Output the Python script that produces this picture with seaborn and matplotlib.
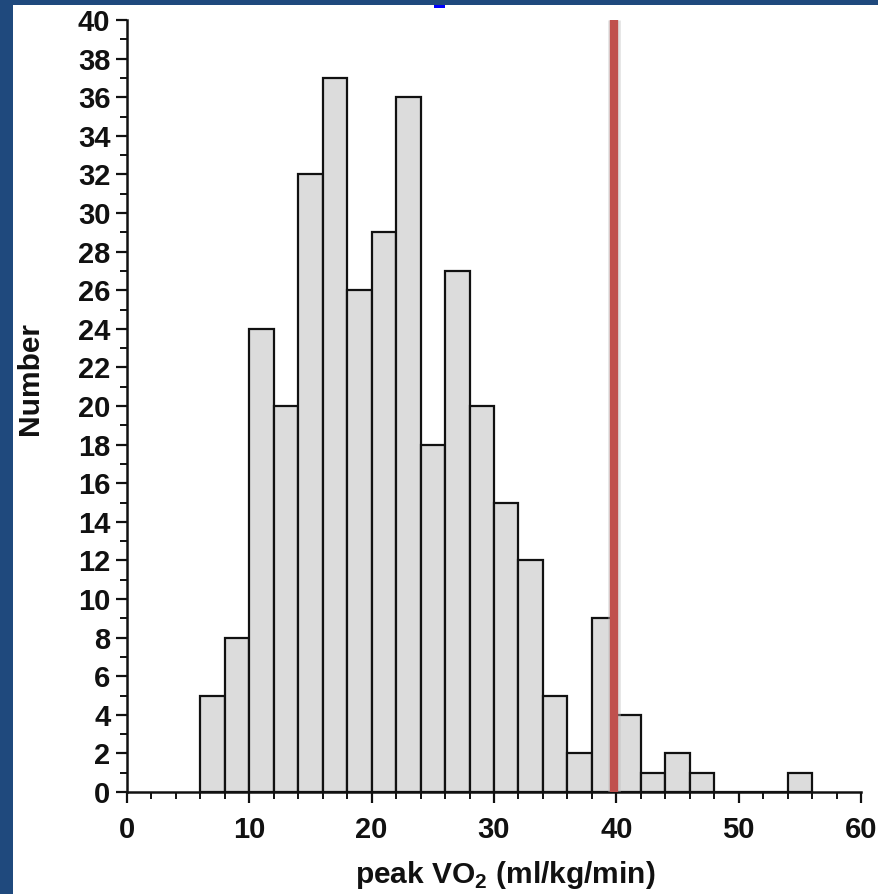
import numpy as np
import pandas as pd
import matplotlib
matplotlib.use("Agg")
import matplotlib.pyplot as plt
import matplotlib.patches as mpatches
import matplotlib.patheffects as pe
from matplotlib.ticker import MultipleLocator
import seaborn as sns

# Histogram of peak VO2: bin edges (ml/kg/min) and patient counts per bin
bin_edges = [6, 8, 10, 12, 14, 16, 18, 20, 22, 24, 26, 28, 30, 32, 34, 36,
             38, 40, 42, 44, 46, 48, 50, 52, 54, 56]
counts = [5, 8, 24, 20, 32, 37, 26, 29, 36, 18, 27, 20, 15, 12, 5, 2,
          9, 4, 1, 2, 1, 0, 0, 0, 1]
threshold = 39.8
x_ticks = [0, 10, 20, 30, 40, 50, 60]
y_ticks = list(range(0, 41, 2))

centers = [(a + b) / 2 for a, b in zip(bin_edges[:-1], bin_edges[1:])]
df = pd.DataFrame({"vo2": centers, "n": counts})

sns.set_style("ticks")
plt.rcParams["font.family"] = ["Liberation Sans", "DejaVu Sans"]
plt.rcParams["font.weight"] = "bold"
plt.rcParams["text.color"] = "#111111"
plt.rcParams["axes.labelcolor"] = "#111111"
plt.rcParams["xtick.color"] = "#111111"
plt.rcParams["ytick.color"] = "#111111"
plt.rcParams["mathtext.fontset"] = "custom"
plt.rcParams["mathtext.rm"] = "Liberation Sans:bold"
plt.rcParams["mathtext.bf"] = "Liberation Sans:bold"

fig = plt.figure(figsize=(8.79, 8.94), dpi=100)
fig.patch.set_facecolor("white")

# navy frame on the left and top edges
navy = "#1F497D"
fig.patches.append(mpatches.Rectangle((0, 0), 13 / 879, 1, transform=fig.transFigure,
                                      facecolor=navy, edgecolor="none", zorder=0))
fig.patches.append(mpatches.Rectangle((0, 1 - 5 / 894), 1, 5 / 894, transform=fig.transFigure,
                                      facecolor=navy, edgecolor="none", zorder=0))
fig.patches.append(mpatches.Rectangle((434 / 879, 1 - 8 / 894), 11 / 879, 3 / 894,
                                      transform=fig.transFigure,
                                      facecolor="#0000FF", edgecolor="none", zorder=0))

ax = fig.add_axes([127 / 879, 1 - 792 / 894, (861 - 127) / 879, (792 - 20) / 894])

sns.histplot(data=df, x="vo2", weights="n", bins=bin_edges, ax=ax,
             color="#DCDCDC", edgecolor="#111111", linewidth=1.6, alpha=1.0)

ax.axvline(threshold, ymin=0, ymax=1, color="#C0504D", linewidth=6, zorder=5,
           solid_capstyle="butt",
           path_effects=[pe.Stroke(linewidth=9, foreground="#BBBBBB", alpha=0.45),
                         pe.Normal()])

ax.set_xlim(0, 60)
ax.set_ylim(0, 40)
ax.set_xticks(x_ticks)
ax.set_yticks(y_ticks)
ax.xaxis.set_minor_locator(MultipleLocator(2))
ax.yaxis.set_minor_locator(MultipleLocator(1))

sns.despine(ax=ax)
for side in ("left", "bottom"):
    ax.spines[side].set_linewidth(1.8)
    ax.spines[side].set_color("#111111")

ax.tick_params(axis="both", which="major", direction="out", length=8, width=1.6,
               color="#111111", labelcolor="#111111", labelsize=21)
ax.tick_params(axis="x", which="major", pad=9)
ax.tick_params(axis="y", which="major", pad=4)
ax.tick_params(axis="both", which="minor", direction="out", length=5, width=1.4,
               color="#111111")
for lab in ax.get_xticklabels() + ax.get_yticklabels():
    lab.set_fontweight("bold")

ax.set_ylabel("Number", fontsize=21.5, fontweight="bold", labelpad=24, color="#111111")
ax.set_xlabel(r"peak VO$_{2}$ (ml/kg/min)", fontsize=21.5, fontweight="bold",
              labelpad=11, color="#111111")
ax.yaxis.label.set_y(0.535)
ax.xaxis.label.set_x(0.515)

fig.savefig("out.png", dpi=100, facecolor="white")
